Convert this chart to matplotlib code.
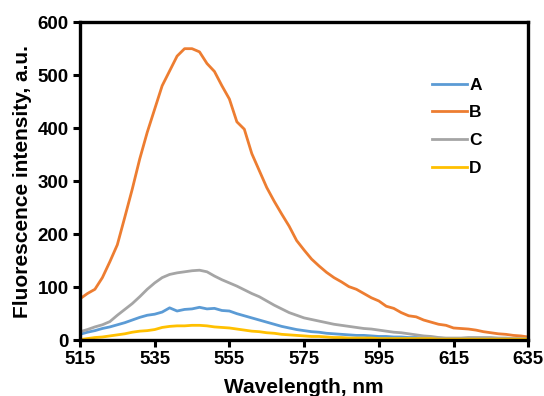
import matplotlib
matplotlib.use('Agg')
import matplotlib.pyplot as plt
import numpy as np

plt.rcParams['font.family'] = ['Liberation Sans', 'DejaVu Sans']
plt.rcParams['font.weight'] = 'bold'

# wavelength grid, 2 nm steps
wavelength = list(range(515, 637, 2))

# series
A = [11, 15, 18, 22, 25, 29, 33, 38, 43, 47, 49, 53, 61, 55, 58, 59, 62, 59, 60, 56,
     55, 50, 46, 42, 38, 34, 30, 26, 23, 20, 18, 16, 15, 13, 12, 11, 10, 9, 9, 8,
     7, 7, 6, 6, 5, 5, 4, 4, 4, 3, 3, 3, 3, 3, 2, 2, 2, 2, 2, 2, 2]
B = [78, 88, 96, 118, 148, 180, 232, 285, 342, 392, 436, 480, 508, 536, 550, 550, 544, 522, 507, 480,
     455, 412, 398, 352, 320, 288, 262, 238, 215, 188, 170, 153, 140, 128, 118, 110, 101, 96, 88, 80,
     74, 64, 60, 52, 46, 44, 38, 34, 30, 28, 23, 22, 21, 19, 16, 14, 12, 11, 9, 8, 6]
C = [16, 20, 25, 29, 35, 47, 58, 69, 82, 96, 108, 118, 124, 127, 129, 131, 132, 129, 121, 114,
     108, 102, 95, 88, 82, 74, 66, 59, 52, 47, 42, 39, 36, 33, 30, 28, 26, 24, 22, 21,
     19, 17, 15, 14, 12, 10, 8, 7, 5, 4, 4, 4, 5, 5, 5, 5, 4, 4, 3, 3, 3]
D = [1, 3, 5, 6, 8, 10, 12, 15, 17, 18, 20, 24, 26, 27, 27, 28, 28, 27, 25, 24,
     23, 21, 19, 17, 16, 14, 13, 11, 10, 9, 8, 7, 7, 6, 5, 5, 4, 4, 4, 4,
     3, 3, 3, 3, 3, 3, 3, 3, 2, 2, 2, 2, 2, 2, 2, 2, 2, 2, 2, 2, 2]

series = {'A': (A, '#5B9BD5'), 'B': (B, '#ED7D31'), 'C': (C, '#A5A5A5'), 'D': (D, '#FFC000')}

fig = plt.figure(figsize=(5.44, 3.96), dpi=100)
ax = fig.add_axes([0.147, 0.141, 0.824, 0.803])

for name, (vals, col) in series.items():
    ax.plot(wavelength, vals, color=col, lw=2.0, label=name)

ax.set_xlim(515, 635)
ax.set_ylim(0, 600)
ax.set_xticks(range(515, 636, 20))
ax.set_yticks(range(0, 601, 100))

for s in ax.spines.values():
    s.set_linewidth(2.4)
ax.tick_params(axis='both', direction='out', width=2.2, length=5, labelsize=13.5, pad=3)

ax.set_xlabel('Wavelength, nm', fontsize=15, fontweight='bold', labelpad=7)
ax.set_ylabel('Fluorescence intensity, a.u.', fontsize=15, fontweight='bold', labelpad=4)

leg = ax.legend(loc='upper left', bbox_to_anchor=(0.75, 0.875), frameon=False,
                fontsize=12.5, handlelength=2.0, handletextpad=0.15, labelspacing=0.72)

fig.savefig('out.png', dpi=100)
